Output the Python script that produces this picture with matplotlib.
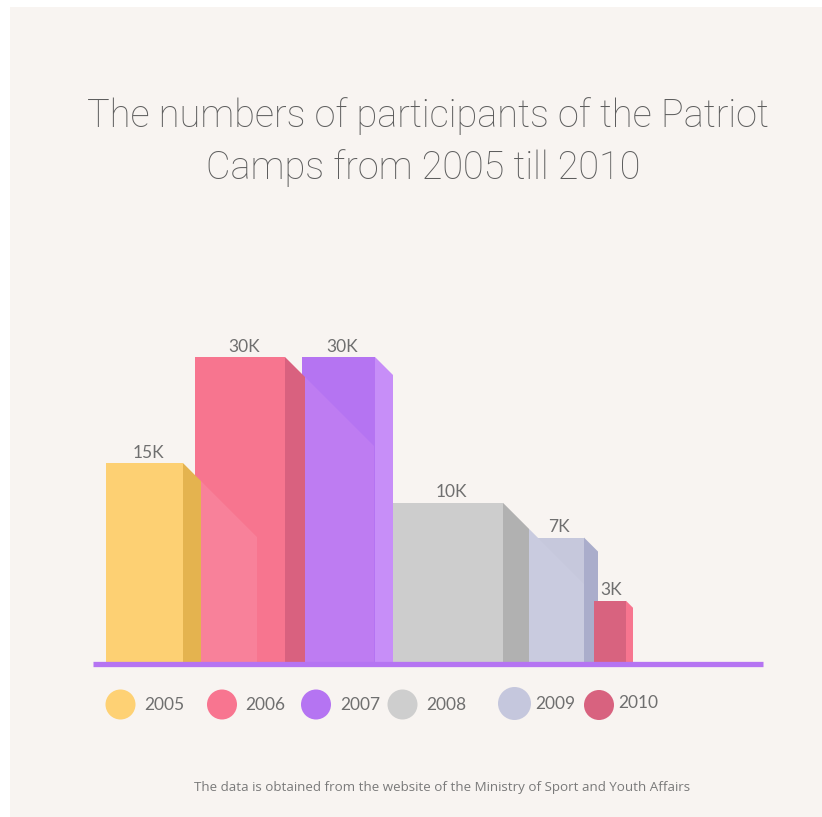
import matplotlib
matplotlib.use("Agg")
import matplotlib.pyplot as plt
from matplotlib.patches import Polygon, Rectangle, Circle

# ---------------- data ----------------
years = ["2005", "2006", "2007", "2008", "2009", "2010"]
value_labels = ["15K", "30K", "30K", "10K", "7K", "3K"]
# bar heights as drawn in the picture (thousands, on the picture's scale)
bar_heights = [19.6, 30.0, 30.0, 15.7, 12.3, 6.1]

title_lines = ["The numbers of participants of the Patriot",
               "Camps from 2005 till 2010"]
footnote = "The data is obtained from the website of the Ministry of Sport and Youth Affairs"

# ---------------- styles / layout ----------------
front_colors = ["#FDD073", "#F7758F", "#B574F2", "#CDCDCD", "#C6C8DC", "#D8637F"]
side_colors = ["#E4B34F", "#D9617F", "#C78EF8", "#B1B1B1", "#AAADCB", "#F7758F"]
shadow_colors = [None, "#F8819A", "#BE7CF2", None, "#C9CBDF", None]
legend_colors = ["#FED174", "#F87590", "#B574F2", "#CECECE", "#C5C7DD", "#D8627F"]

lefts = [106, 195, 302, 390, 529, 594]      # px
widths = [77, 90, 73, 113, 55, 32]         # px
depths = [18, 20, 18, 26, 14, 7]           # px
shadow_len = [0, 56, 69, 0, 55, 0]         # px
stack = [6, 5, 4, 3, 2, 7]                 # drawing order (higher on top)

W, H = 822, 817
BASE_PX = 663
TOP30_PX = 357
ppu = (BASE_PX - TOP30_PX) / 30.0          # px per unit

fig = plt.figure(figsize=(W / 100, H / 100), dpi=100)
fig.patch.set_facecolor("white")

# overlay axes in pixel coordinates (background, legend, texts)
bg = fig.add_axes([0, 0, 1, 1])
bg.set_xlim(0, W)
bg.set_ylim(H, 0)
bg.axis("off")
bg.add_patch(Rectangle((10, 7), W - 10, H - 7, facecolor="#F8F4F1",
                       edgecolor="none", zorder=0))

# chart axes: x in px, y in thousands
ax = fig.add_axes([0, 0, 1, 1])
ax.set_xlim(0, W)
ax.set_ylim(-(H - BASE_PX) / ppu, 30 + TOP30_PX / ppu)
ax.axis("off")
ax.patch.set_visible(False)

n = len(years)
for i in range(n):
    z = 10 + stack[i] * 3
    h = bar_heights[i]
    x0, w, d = lefts[i], widths[i], depths[i]
    du = d / ppu
    ax.bar(x0, h, width=w, align="edge", color=front_colors[i],
           edgecolor="none", zorder=z)
    # side face with bevel
    side = Polygon([(x0 + w, h), (x0 + w + d, h - du),
                    (x0 + w + d, 0), (x0 + w, 0)],
                   closed=True, facecolor=side_colors[i], edgecolor="none",
                   zorder=z + 1)
    ax.add_patch(side)
    # shadow cast by previous bar
    if i > 0 and shadow_len[i] > 0:
        p = i - 1
        sx = lefts[p] + widths[p] + depths[p]
        sy = bar_heights[p] - depths[p] / ppu
        L = shadow_len[i]
        ex = sx + L
        ey = sy - L / ppu
        sh = Polygon([(sx, sy), (ex, ey), (ex, 0), (sx, 0)], closed=True,
                     facecolor=shadow_colors[i], edgecolor="none",
                     zorder=z + 0.5)
        ax.add_patch(sh)
    # value label
    ax.annotate(value_labels[i], (x0 + w / 2 + d * 0.2, h),
                xytext=(0, 7.5), textcoords="offset points",
                ha="center", va="center", fontsize=12.5, color="#6F6F6F",
                family=["Lato", "DejaVu Sans"], zorder=40)

# baseline
ax.plot([93, 763], [-0.05, -0.05], color="#B574F2", lw=3.8,
        solid_capstyle="butt", zorder=50)

# legend
leg_cx = [120.5, 222, 316, 402.5, 514.5, 599]
leg_cy = [704.5, 704.5, 704.5, 704.5, 703.5, 705]
leg_r = [15, 15, 15, 15, 16.5, 15]
leg_tx = [144, 245, 340, 426, 535, 618]
leg_ty = [705, 705, 705, 705, 704, 703]
for i in range(n):
    bg.add_patch(Circle((leg_cx[i], leg_cy[i]), leg_r[i],
                        facecolor=legend_colors[i], edgecolor="none", zorder=5))
    bg.text(leg_tx[i], leg_ty[i], years[i], ha="left", va="center",
            fontsize=12.5, color="#6F6F6F", family=["Lato", "DejaVu Sans"],
            zorder=6)

fig.canvas.draw()
renderer = fig.canvas.get_renderer()


def fit(t, target_w):
    bb = t.get_window_extent(renderer=renderer)
    t.set_fontsize(t.get_fontsize() * target_w / bb.width)


t1 = bg.text(428, 126.7, title_lines[0], ha="center", va="baseline",
             fontsize=26, color="#5E5E5E", family=["Roboto", "DejaVu Sans"],
             fontweight="light", zorder=6)
fit(t1, 680)
t2 = bg.text(423, 179, title_lines[1], ha="center", va="baseline",
             fontsize=t1.get_fontsize(), color="#5E5E5E",
             family=["Roboto", "DejaVu Sans"], fontweight="light", zorder=6)

tf = bg.text(442, 787, footnote, ha="center", va="center", fontsize=9,
             color="#7A7A7A", family=["Open Sans", "DejaVu Sans"], zorder=6)
fit(tf, 498)

fig.savefig("out.png", dpi=100, facecolor=fig.get_facecolor())
